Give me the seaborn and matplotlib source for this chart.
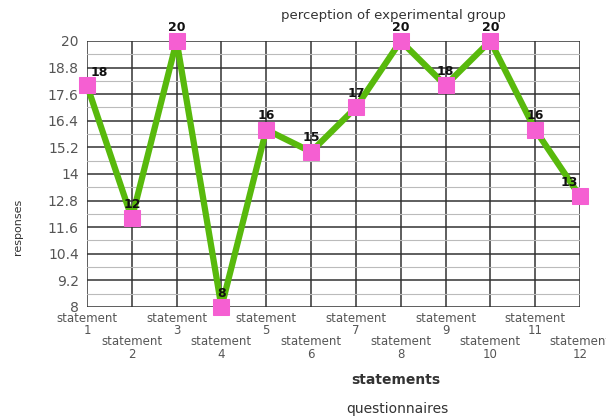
import numpy as np
import pandas as pd
import matplotlib
matplotlib.use("Agg")
import matplotlib.pyplot as plt
import seaborn as sns

# values
statements = [f"statement\n{i}" for i in range(1, 13)]
responses = [18, 12, 20, 8, 16, 15, 17, 20, 18, 20, 16, 13]
y_ticks = [8, 9.2, 10.4, 11.6, 12.8, 14, 15.2, 16.4, 17.6, 18.8, 20]
y_minor = [8.6, 9.8, 11.0, 12.2, 13.4, 14.6, 15.8, 17.0, 18.2, 19.4]

df = pd.DataFrame({"pos": range(len(responses)), "responses": responses})

sns.set_style("white")
plt.rcParams['font.family'] = ['DejaVu Sans']

fig = plt.figure(figsize=(6.06, 4.17), dpi=100)
ax = fig.add_axes([0.1436, 0.2638, 0.8134, 0.6379])

sns.lineplot(data=df, x="pos", y="responses", ax=ax, color="#58b90c", linewidth=4.5,
             marker="s", markersize=12, markerfacecolor="#f55fd2",
             markeredgecolor="#f55fd2", clip_on=False, zorder=5)

ax.set_xlim(0, len(responses) - 1)
ax.set_ylim(y_ticks[0], y_ticks[-1])

# y axis: major and minor horizontal lines
ax.set_yticks(y_ticks)
ax.set_yticklabels([f"{v:g}" for v in y_ticks], fontsize=10, color="#555555")
ax.set_yticks(y_minor, minor=True)

# x axis: odd statements high, even statements low
odd = list(range(0, 12, 2))
even = list(range(1, 12, 2))
ax.set_xticks(odd)
ax.set_xticklabels([statements[i] for i in odd], fontsize=8.5, color="#555555",
                   linespacing=0.95)
ax.set_xticks(even, minor=True)
ax.set_xticklabels([statements[i] for i in even], minor=True, fontsize=8.5,
                   color="#555555", linespacing=0.95)
ax.tick_params(axis="x", which="major", length=3, width=1.2, color="#333333", pad=0.5)
ax.tick_params(axis="x", which="minor", length=20, width=1.2, color="#333333", pad=0.5)
ax.tick_params(axis="y", which="major", length=4, width=1.2, color="#333333", pad=2)
ax.tick_params(axis="y", which="minor", length=0)

ax.grid(True, axis="x", which="both", color="#333333", linewidth=1.1)
ax.grid(True, axis="y", which="major", color="#333333", linewidth=1.1)
ax.grid(True, axis="y", which="minor", color="#bbbbbb", linewidth=0.8)
for s in ax.spines.values():
    s.set_visible(False)

ax.set_xlabel("")
ax.set_ylabel("")

# data labels
offsets = {0: (9, 9.5), 11: (-8, 10)}
for i, v in enumerate(responses):
    dx, dy = offsets.get(i, (0, 10))
    ax.annotate(str(v), (i, v), xytext=(dx, dy), textcoords="offset points",
                ha="center", va="center", fontsize=9, fontweight="bold",
                color="#111111", zorder=6, annotation_clip=False)

fig.text(0.649, 0.964, "perception of experimental group", ha="center", va="center",
         fontsize=9.5, color="#333333")
fig.text(0.03, 0.455, "responses", rotation=90, ha="center", va="center",
         fontsize=8, color="#333333")
fig.text(0.653, 0.089, "statements", ha="center", va="center", fontsize=10,
         fontweight="bold", color="#333333")
fig.text(0.655, 0.019, "questionnaires", ha="center", va="center", fontsize=10,
         color="#333333")

fig.savefig("out.png", dpi=100)
